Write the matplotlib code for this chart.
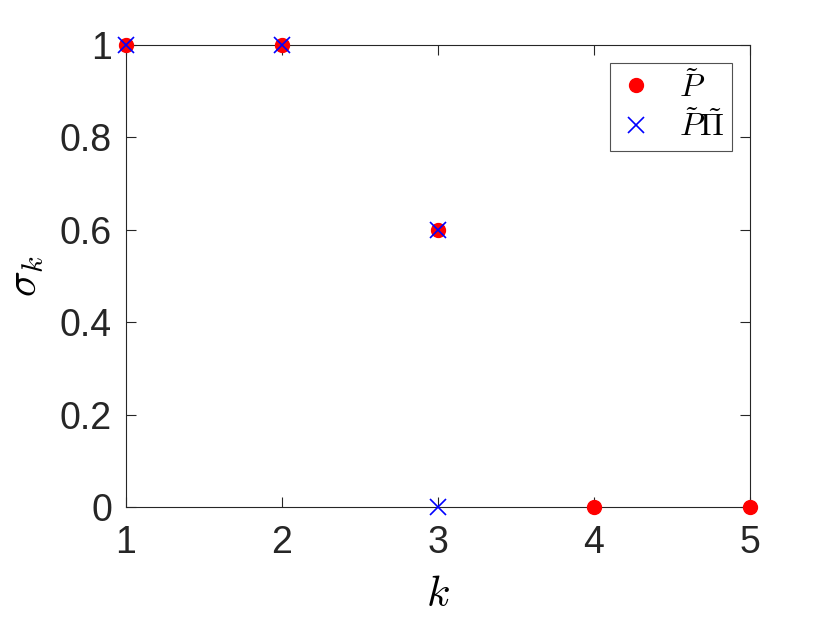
import numpy as np
import matplotlib.pyplot as plt

plt.rcParams['font.family'] = ['Liberation Sans', 'DejaVu Sans']
plt.rcParams['mathtext.fontset'] = 'cm'

# singular values of P~ and P~Pi~
k_p = [1, 2, 3, 4, 5]
sigma_p = [1.0, 1.0, 0.6, 0.0, 0.0]
k_ppi = [1, 2, 3, 3]
sigma_ppi = [1.0, 1.0, 0.6, 0.0]

xticks = [1, 2, 3, 4, 5]
yticks = [0, 0.2, 0.4, 0.6, 0.8, 1.0]
ytick_labels = ['0', '0.2', '0.4', '0.6', '0.8', '1']

fig = plt.figure(figsize=(8.3, 6.23), dpi=100)
ax = fig.add_axes([126 / 830, 1 - 507 / 623, 624 / 830, 462 / 623])

ax.plot(k_p, sigma_p, 'o', color='red', markersize=10, clip_on=False,
        zorder=3, label=r'$\tilde{P}$')
ax.plot(k_ppi, sigma_ppi, 'x', color='blue', markersize=12, markeredgewidth=1.2,
        clip_on=False, zorder=4, label=r'$\tilde{P}\tilde{\Pi}$')

ax.set_xlim(1, 5)
ax.set_ylim(0, 1)
ax.set_xticks(xticks)
ax.set_yticks(yticks)
ax.set_yticklabels(ytick_labels)
ax.tick_params(direction='in', top=True, right=True, length=7, width=0.8,
               labelsize=27, colors='#262626')
ax.tick_params(axis='x', pad=13)
ax.tick_params(axis='y', pad=10)
for s in ax.spines.values():
    s.set_color('#262626')
    s.set_linewidth(0.8)

ax.set_xlabel(r'$k$', fontsize=31, labelpad=10)
ax.set_ylabel(r'$\sigma_k$', fontsize=31, labelpad=10)

leg = ax.legend(loc='upper right', fontsize=23, frameon=True, fancybox=False,
                edgecolor='#262626', borderaxespad=0.55, handletextpad=0.8,
                borderpad=0.25, labelspacing=0.2, handlelength=1.1)
leg.get_frame().set_linewidth(0.8)

fig.savefig('out.png', dpi=100)
